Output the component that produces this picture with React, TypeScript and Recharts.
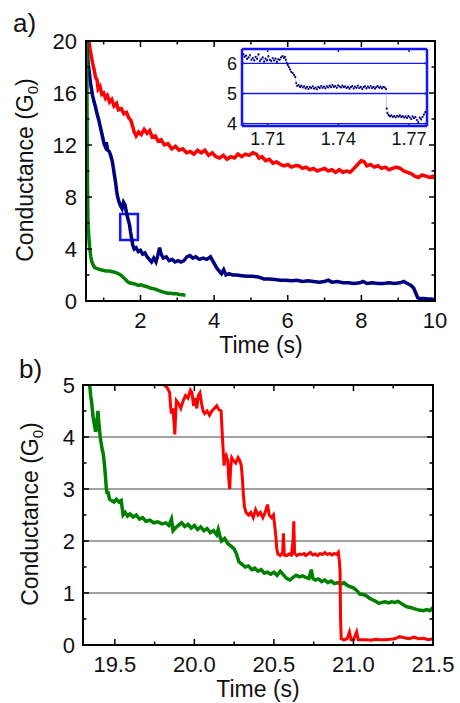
import React from 'react';
import { ComposedChart, Line, XAxis, YAxis, CartesianGrid, ReferenceArea } from 'recharts';

const FONT = '"Liberation Sans", Arial, sans-serif';
const RED = '#ff0000';
const NAVY = '#000080';
const GREEN = '#008000';
const BLUE = '#1414ff';

// ---- panel a: time (s), conductance (G0)
const aTicksX = [1, 2, 3, 4, 5, 6, 7, 8, 9, 10];
const aLabelsX = [2, 4, 6, 8, 10];
const aTicksY = [0, 2, 4, 6, 8, 10, 12, 14, 16, 18, 20];
const aLabelsY = [0, 4, 8, 12, 16, 20];

const aRed = [
  [0.6, 20.0], [0.63, 19.4], [0.66, 18.9], [0.7, 18.3], [0.74, 17.8], [0.78, 17.2], [0.82, 17.0], [0.85, 16.3],
  [0.9, 16.5], [0.95, 15.9], [1.0, 16.0], [1.05, 15.6], [1.1, 15.8], [1.16, 15.3], [1.22, 15.5], [1.28, 15.0],
  [1.35, 15.2], [1.4, 14.7], [1.48, 14.8], [1.55, 14.4], [1.62, 14.5], [1.68, 14.1], [1.74, 13.9], [1.78, 13.5],
  [1.83, 13.0], [1.88, 12.7], [1.95, 13.0], [2.02, 12.8], [2.1, 13.2], [2.18, 12.9], [2.25, 13.1], [2.32, 12.6],
  [2.4, 12.7], [2.48, 12.3], [2.56, 12.4], [2.65, 12.0], [2.75, 12.1], [2.85, 11.7], [2.95, 11.9], [3.05, 11.6],
  [3.15, 11.7], [3.25, 11.4], [3.35, 11.5], [3.45, 11.3], [3.55, 11.6], [3.65, 11.4], [3.75, 11.6], [3.85, 11.2],
  [3.95, 11.4], [4.05, 11.1], [4.15, 11.0], [4.25, 11.2], [4.35, 10.9], [4.45, 11.1], [4.55, 11.0], [4.65, 11.3],
  [4.75, 11.1], [4.85, 11.3], [4.95, 11.2], [5.05, 11.4], [5.15, 11.3], [5.22, 11.0], [5.3, 11.1], [5.4, 10.8],
  [5.5, 10.9], [5.6, 10.6], [5.7, 10.7], [5.8, 10.5], [5.9, 10.4], [6.0, 10.5], [6.1, 10.3], [6.2, 10.4],
  [6.3, 10.4], [6.4, 10.2], [6.5, 10.3], [6.6, 10.1], [6.7, 10.2], [6.8, 10.0], [6.9, 10.1], [7.0, 10.2],
  [7.1, 10.0], [7.2, 10.1], [7.3, 9.9], [7.4, 10.1], [7.5, 9.9], [7.6, 10.0], [7.7, 9.9], [7.8, 10.2],
  [7.9, 10.5], [8.0, 10.8], [8.08, 10.7], [8.15, 10.4], [8.25, 10.5], [8.35, 10.3], [8.45, 10.4], [8.55, 10.2],
  [8.65, 10.3], [8.75, 10.1], [8.85, 10.2], [8.95, 10.3], [9.05, 10.2], [9.15, 10.0], [9.25, 9.9], [9.35, 9.8],
  [9.45, 9.6], [9.55, 9.5], [9.65, 9.7], [9.75, 9.6], [9.85, 9.5], [9.95, 9.6], [10.0, 9.5],
];

const aBlue = [
  [0.54, 20.0], [0.56, 19.0], [0.58, 18.2], [0.61, 17.6], [0.64, 16.8], [0.67, 16.3], [0.7, 15.8], [0.74, 15.3],
  [0.78, 14.9], [0.82, 14.4], [0.86, 14.0], [0.9, 13.5], [0.94, 13.0], [0.98, 12.5], [1.01, 12.1], [1.04, 11.9],
  [1.07, 12.2], [1.11, 11.6], [1.15, 11.5], [1.19, 11.2], [1.23, 10.8], [1.26, 10.3], [1.29, 9.7], [1.32, 9.2],
  [1.35, 8.5], [1.38, 8.0], [1.42, 7.6], [1.46, 7.3], [1.5, 7.1], [1.54, 7.6], [1.58, 7.4], [1.62, 6.8],
  [1.66, 6.3], [1.7, 5.9], [1.73, 5.3], [1.76, 4.8], [1.79, 4.3], [1.83, 4.0], [1.88, 4.1], [1.94, 3.8],
  [2.0, 3.9], [2.06, 3.6], [2.12, 3.7], [2.18, 3.4], [2.24, 3.2], [2.3, 3.0], [2.36, 3.3], [2.42, 3.0],
  [2.47, 3.5], [2.52, 4.1], [2.56, 3.6], [2.62, 3.3], [2.7, 3.4], [2.78, 3.1], [2.86, 3.2], [2.94, 3.0],
  [3.02, 3.1], [3.1, 3.0], [3.18, 3.1], [3.26, 3.4], [3.34, 3.5], [3.42, 3.3], [3.5, 3.4], [3.6, 3.2],
  [3.7, 3.3], [3.8, 3.2], [3.9, 3.4], [3.96, 3.1], [4.02, 2.8], [4.08, 2.5], [4.14, 2.3], [4.2, 2.1],
  [4.26, 2.4], [4.32, 2.0], [4.4, 2.1], [4.5, 2.0], [4.62, 2.0], [4.75, 1.95], [4.9, 1.9], [5.05, 1.9],
  [5.2, 1.85], [5.35, 1.7], [5.5, 1.7], [5.65, 1.65], [5.8, 1.6], [5.95, 1.6], [6.1, 1.55], [6.25, 1.6],
  [6.4, 1.5], [6.55, 1.55], [6.7, 1.5], [6.85, 1.45], [7.0, 1.5], [7.1, 1.6], [7.2, 1.45], [7.35, 1.5],
  [7.5, 1.4], [7.65, 1.4], [7.8, 1.35], [7.95, 1.4], [8.05, 1.5], [8.15, 1.35], [8.3, 1.4], [8.45, 1.35],
  [8.6, 1.35], [8.75, 1.4], [8.9, 1.35], [9.05, 1.4], [9.15, 1.5], [9.25, 1.35], [9.35, 1.2], [9.42, 1.0],
  [9.48, 0.6], [9.53, 0.25], [9.6, 0.2], [9.7, 0.2], [9.8, 0.15], [9.9, 0.15], [10.0, 0.1],
];

const aGreen = [
  [0.54, 20.0], [0.545, 17.0], [0.55, 14.0], [0.555, 11.0], [0.56, 9.0], [0.565, 7.8], [0.57, 6.6], [0.58, 5.7],
  [0.6, 4.8], [0.62, 4.1], [0.65, 3.4], [0.68, 3.0], [0.71, 2.8], [0.75, 2.6], [0.8, 2.5], [0.86, 2.45],
  [0.92, 2.4], [1.0, 2.35], [1.08, 2.3], [1.16, 2.3], [1.24, 2.25], [1.32, 2.2], [1.4, 2.1], [1.46, 2.0],
  [1.52, 1.85], [1.58, 1.7], [1.64, 1.5], [1.7, 1.4], [1.78, 1.35], [1.86, 1.3], [1.94, 1.2], [2.02, 1.25],
  [2.1, 1.15], [2.18, 1.1], [2.26, 1.0], [2.34, 0.95], [2.42, 0.9], [2.5, 0.8], [2.58, 0.72], [2.66, 0.65],
  [2.74, 0.6], [2.82, 0.6], [2.9, 0.55], [2.98, 0.55], [3.06, 0.5], [3.14, 0.48], [3.22, 0.45],
];

// zoom box drawn on the blue trace
const aBox = { t1: 1.45, t2: 1.93, g1: 4.7, g2: 6.7 };

// ---- inset
const inTicksX = [1.71, 1.74, 1.77];
const inTicksY = [4, 5, 6];
const inBlue = [
  [1.6997, 6.3], [1.7002, 6.22], [1.7008, 6.26], [1.7013, 6.15], [1.7019, 6.2], [1.7025, 6.28], [1.7031, 6.12],
  [1.7037, 6.18], [1.7043, 6.1], [1.7049, 6.22], [1.7055, 6.15], [1.7061, 6.3], [1.7067, 6.08], [1.7073, 6.14],
  [1.7079, 6.2], [1.7085, 6.06], [1.7091, 6.16], [1.7097, 6.1], [1.7103, 6.24], [1.7109, 6.12], [1.7115, 6.08],
  [1.7121, 6.18], [1.7127, 6.1], [1.7133, 6.16], [1.7139, 6.05], [1.7145, 6.14], [1.7151, 6.12], [1.7157, 6.2],
  [1.7163, 6.24], [1.7169, 6.18], [1.7173, 6.22], [1.7177, 6.12], [1.7181, 6.02], [1.7185, 5.95], [1.719, 5.88],
  [1.7195, 5.8], [1.72, 5.72], [1.7206, 5.68], [1.7212, 5.62], [1.7217, 5.55], [1.7221, 5.35], [1.7225, 5.25],
  [1.7231, 5.28], [1.7237, 5.22], [1.7243, 5.26], [1.7249, 5.2], [1.7255, 5.24], [1.7261, 5.17], [1.7267, 5.22],
  [1.7273, 5.15], [1.7279, 5.21], [1.7285, 5.18], [1.7291, 5.24], [1.7297, 5.16], [1.7303, 5.2], [1.7309, 5.14],
  [1.7315, 5.22], [1.7321, 5.18], [1.7327, 5.25], [1.7333, 5.19], [1.7339, 5.23], [1.7345, 5.17], [1.7351, 5.24],
  [1.7357, 5.2], [1.7363, 5.26], [1.7369, 5.21], [1.7375, 5.28], [1.7381, 5.22], [1.7387, 5.25], [1.7393, 5.19],
  [1.7399, 5.27], [1.7405, 5.23], [1.7411, 5.2], [1.7417, 5.26], [1.7423, 5.21], [1.7429, 5.24], [1.7435, 5.18],
  [1.7441, 5.22], [1.7447, 5.16], [1.7453, 5.21], [1.7459, 5.25], [1.7465, 5.17], [1.7471, 5.23], [1.7477, 5.19],
  [1.7483, 5.26], [1.7489, 5.18], [1.7495, 5.22], [1.7501, 5.15], [1.7507, 5.21], [1.7513, 5.24], [1.7519, 5.17],
  [1.7525, 5.23], [1.7531, 5.19], [1.7537, 5.25], [1.7543, 5.18], [1.7549, 5.22], [1.7555, 5.16], [1.7561, 5.21],
  [1.7567, 5.25], [1.7573, 5.19], [1.7579, 5.23], [1.7585, 5.17], [1.7591, 5.22], [1.7597, 5.2], [1.7602, 5.15],
  [1.7605, 4.5], [1.7608, 4.35], [1.7613, 4.28], [1.7619, 4.24], [1.7625, 4.27], [1.7631, 4.22], [1.7637, 4.25],
  [1.7643, 4.21], [1.7649, 4.26], [1.7655, 4.23], [1.7661, 4.27], [1.7667, 4.22], [1.7673, 4.25], [1.7679, 4.2],
  [1.7685, 4.24], [1.7691, 4.19], [1.7697, 4.25], [1.7703, 4.21], [1.7709, 4.15], [1.7715, 4.24], [1.7721, 4.18],
  [1.7727, 4.22], [1.7733, 4.12], [1.7739, 4.05], [1.7745, 4.2], [1.7751, 4.14], [1.7757, 4.22], [1.7763, 4.3],
  [1.7769, 4.38],
];

// ---- panel b
const bTicksX = [19.5, 19.75, 20, 20.25, 20.5, 20.75, 21, 21.25, 21.5];
const bLabelsX = [19.5, 20, 20.5, 21, 21.5];
const bTicksY = [0, 0.5, 1, 1.5, 2, 2.5, 3, 3.5, 4, 4.5, 5];
const bLabelsY = [0, 1, 2, 3, 4, 5];
const bGridY = [1, 2, 3, 4];

const bGreen = [
  [19.342, 5.0], [19.348, 4.8], [19.353, 4.7], [19.358, 4.55], [19.363, 4.4], [19.368, 4.3], [19.374, 4.2],
  [19.379, 4.1], [19.384, 4.15], [19.389, 4.35], [19.394, 4.5], [19.399, 4.3], [19.405, 4.1], [19.41, 3.95],
  [19.416, 3.85], [19.421, 3.75], [19.426, 3.7], [19.432, 3.55], [19.437, 3.4], [19.442, 3.2], [19.447, 3.0],
  [19.452, 2.9], [19.458, 2.95], [19.463, 2.85], [19.468, 2.8], [19.48, 2.78], [19.495, 2.75], [19.51, 2.8],
  [19.525, 2.75], [19.54, 2.78], [19.548, 2.6], [19.552, 2.5], [19.565, 2.55], [19.58, 2.48], [19.595, 2.52],
  [19.615, 2.46], [19.635, 2.5], [19.655, 2.42], [19.675, 2.45], [19.695, 2.38], [19.72, 2.4], [19.745, 2.35],
  [19.77, 2.37], [19.795, 2.33], [19.82, 2.35], [19.84, 2.3], [19.856, 2.42], [19.866, 2.2], [19.88, 2.25],
  [19.9, 2.3], [19.92, 2.35], [19.94, 2.28], [19.96, 2.32], [19.98, 2.25], [20.0, 2.3], [20.02, 2.22],
  [20.04, 2.27], [20.06, 2.2], [20.08, 2.24], [20.1, 2.16], [20.12, 2.2], [20.14, 2.12], [20.15, 2.22],
  [20.16, 2.1], [20.17, 2.0], [20.19, 2.05], [20.21, 1.95], [20.23, 1.9], [20.25, 1.85], [20.265, 1.75],
  [20.28, 1.6], [20.3, 1.55], [20.32, 1.5], [20.34, 1.52], [20.36, 1.45], [20.38, 1.48], [20.4, 1.42],
  [20.42, 1.45], [20.44, 1.38], [20.46, 1.4], [20.48, 1.36], [20.5, 1.4], [20.52, 1.34], [20.54, 1.42],
  [20.56, 1.35], [20.58, 1.28], [20.6, 1.25], [20.62, 1.3], [20.64, 1.34], [20.66, 1.31], [20.68, 1.33],
  [20.7, 1.3], [20.72, 1.28], [20.735, 1.45], [20.745, 1.28], [20.76, 1.25], [20.78, 1.27], [20.8, 1.22],
  [20.82, 1.25], [20.84, 1.2], [20.86, 1.23], [20.88, 1.18], [20.9, 1.2], [20.92, 1.16], [20.94, 1.2],
  [20.96, 1.15], [20.98, 1.12], [21.0, 1.1], [21.02, 1.05], [21.04, 0.98], [21.06, 0.97], [21.08, 0.95],
  [21.1, 0.9], [21.12, 0.87], [21.14, 0.84], [21.16, 0.8], [21.18, 0.82], [21.2, 0.83], [21.22, 0.81],
  [21.24, 0.83], [21.26, 0.82], [21.28, 0.84], [21.3, 0.8], [21.32, 0.76], [21.34, 0.73], [21.36, 0.72],
  [21.38, 0.7], [21.4, 0.68], [21.42, 0.67], [21.44, 0.66], [21.46, 0.68], [21.48, 0.66], [21.5, 0.72],
];

const bRed = [
  [19.81, 5.0], [19.83, 4.95], [19.845, 4.85], [19.85, 4.6], [19.856, 4.45], [19.865, 4.55], [19.872, 4.3],
  [19.877, 4.05], [19.882, 4.4], [19.887, 4.7], [19.9, 4.65], [19.915, 4.55], [19.93, 4.7], [19.945, 4.8],
  [19.96, 4.75], [19.975, 4.9], [19.985, 4.85], [19.995, 4.6], [20.005, 4.75], [20.015, 4.55], [20.025, 4.8],
  [20.035, 4.85], [20.045, 4.65], [20.055, 4.5], [20.065, 4.45], [20.08, 4.5], [20.095, 4.42], [20.11, 4.5],
  [20.125, 4.55], [20.14, 4.6], [20.155, 4.52], [20.168, 4.5], [20.173, 4.2], [20.177, 3.95], [20.182, 3.7],
  [20.187, 3.45], [20.192, 3.6], [20.2, 3.65], [20.21, 3.55], [20.216, 3.2], [20.222, 3.0], [20.228, 3.4],
  [20.235, 3.6], [20.245, 3.55], [20.26, 3.5], [20.275, 3.6], [20.285, 3.55], [20.295, 3.45], [20.302, 3.2],
  [20.308, 2.9], [20.315, 2.65], [20.325, 2.55], [20.34, 2.5], [20.355, 2.55], [20.37, 2.45], [20.385, 2.6],
  [20.4, 2.5], [20.415, 2.55], [20.43, 2.45], [20.445, 2.55], [20.46, 2.7], [20.47, 2.5], [20.485, 2.45],
  [20.497, 2.5], [20.505, 2.3], [20.512, 2.1], [20.518, 1.85], [20.525, 1.75], [20.54, 1.72], [20.555, 1.78],
  [20.56, 2.15], [20.565, 1.73], [20.58, 1.72], [20.595, 1.75], [20.61, 1.73], [20.62, 2.0], [20.625, 2.38],
  [20.63, 1.76], [20.645, 1.72], [20.66, 1.75], [20.675, 1.74], [20.69, 1.76], [20.7, 1.72], [20.715, 1.75],
  [20.73, 1.78], [20.745, 1.73], [20.76, 1.75], [20.775, 1.72], [20.79, 1.76], [20.805, 1.74], [20.82, 1.78],
  [20.835, 1.74], [20.85, 1.76], [20.865, 1.73], [20.88, 1.76], [20.895, 1.74], [20.905, 1.78], [20.912, 1.6],
  [20.916, 1.4], [20.919, 0.5], [20.923, 0.12], [20.94, 0.1], [20.96, 0.12], [20.975, 0.25], [20.985, 0.1],
  [21.0, 0.1], [21.02, 0.25], [21.03, 0.1], [21.05, 0.1], [21.08, 0.1], [21.11, 0.09], [21.14, 0.11],
  [21.17, 0.1], [21.2, 0.1], [21.23, 0.11], [21.26, 0.12], [21.29, 0.16], [21.32, 0.14], [21.35, 0.12],
  [21.38, 0.15], [21.41, 0.12], [21.44, 0.13], [21.47, 0.1], [21.5, 0.12],
];

const pts = (arr: number[][]) => arr.map(([t, g]) => ({ t, g }));

type Side = 'bottom' | 'top' | 'left' | 'right';
type TickOpt = {
  labels: number[];
  text?: boolean;
  fmt?: (v: number) => string;
  color?: string;
  size?: number;
  gap?: number;
  major?: number;
  minor?: number;
};

// tick marks drawn inward, labels outside
function edgeTick(side: Side, o: TickOpt) {
  const color = o.color || '#000';
  const size = o.size || 22;
  const gap = o.gap ?? 10;
  const major = o.major ?? 6;
  const minor = o.minor ?? 3.5;
  return (p: any) => {
    const v = p.payload.value;
    const { x, y } = p;
    const isMajor = o.labels.some((l) => Math.abs(l - v) < 1e-6);
    const len = isMajor ? major : minor;
    const l = { x1: x, y1: y, x2: x, y2: y };
    if (side === 'bottom') l.y2 = y - len;
    if (side === 'top') l.y2 = y + len;
    if (side === 'left') l.x2 = x + len;
    if (side === 'right') l.x2 = x - len;
    const label = o.fmt ? o.fmt(v) : String(v);
    return (
      <g>
        <line {...l} stroke={color} strokeWidth={1.5} />
        {o.text && isMajor && side === 'bottom' && (
          <text x={x} y={y + gap} dy="0.72em" textAnchor="middle" fontSize={size} fontFamily={FONT} fill="#111">
            {label}
          </text>
        )}
        {o.text && isMajor && side === 'left' && (
          <text x={x - gap} y={y} dy="0.36em" textAnchor="end" fontSize={size} fontFamily={FONT} fill="#111">
            {label}
          </text>
        )}
      </g>
    );
  };
}

const frameProps = (color: string, w: number) => ({
  axisLine: { stroke: color, strokeWidth: w },
  tickLine: false,
  tickSize: 0,
  tickMargin: 0,
  interval: 0 as const,
  type: 'number' as const,
  allowDataOverflow: true,
});

// plot box: left 86, right 435, top 41, bottom 301
function PanelA() {
  const dom: [number, number] = [0.52, 10];
  return (
    <ComposedChart width={460} height={360} margin={{ top: 0, right: 0, bottom: 0, left: 0 }}>
      <XAxis xAxisId="b" dataKey="t" domain={dom} ticks={aTicksX} height={59} {...frameProps('#000', 2)}
        tick={edgeTick('bottom', { labels: aLabelsX, text: true, gap: 11 })} />
      <XAxis xAxisId="t" orientation="top" dataKey="t" domain={dom} ticks={aTicksX} height={41} {...frameProps('#000', 2)}
        tick={edgeTick('top', { labels: aLabelsX })} />
      <YAxis yAxisId="l" dataKey="g" domain={[0, 20]} ticks={aTicksY} width={86} {...frameProps('#000', 2)}
        tick={edgeTick('left', { labels: aLabelsY, text: true, gap: 9 })} />
      <YAxis yAxisId="r" orientation="right" dataKey="g" domain={[0, 20]} ticks={aTicksY} width={25} {...frameProps('#000', 2)}
        tick={edgeTick('right', { labels: aLabelsY })} />
      <ReferenceArea xAxisId="b" yAxisId="l" x1={dom[0]} x2={dom[1]} y1={0} y2={20}
        stroke="#000" strokeWidth={2} fill="none" fillOpacity={0} ifOverflow="visible" />
      <Line xAxisId="b" yAxisId="l" data={pts(aRed)} dataKey="g" stroke={RED} strokeWidth={3.5} dot={false} isAnimationActive={false} />
      <Line xAxisId="b" yAxisId="l" data={pts(aBlue)} dataKey="g" stroke={NAVY} strokeWidth={3.5} dot={false} isAnimationActive={false} />
      <Line xAxisId="b" yAxisId="l" data={pts(aGreen)} dataKey="g" stroke={GREEN} strokeWidth={3.5} dot={false} isAnimationActive={false} />
      <ReferenceArea xAxisId="b" yAxisId="l" x1={aBox.t1} x2={aBox.t2} y1={aBox.g1} y2={aBox.g2}
        stroke={BLUE} strokeWidth={2.5} fill="none" fillOpacity={0} ifOverflow="visible" />
    </ComposedChart>
  );
}

// plot box: left 242, right 427, top 49, bottom 126
function Inset() {
  const dom: [number, number] = [1.6991, 1.7776];
  const ydom: [number, number] = [3.92, 6.48];
  return (
    <ComposedChart width={460} height={160} margin={{ top: 0, right: 0, bottom: 0, left: 0 }}>
      <CartesianGrid xAxisId="b" yAxisId="l" vertical={false} horizontalValues={inTicksY} stroke={BLUE} strokeWidth={1.3} />
      <XAxis xAxisId="b" dataKey="t" domain={dom} ticks={inTicksX} height={34} {...frameProps(BLUE, 2.5)}
        tick={edgeTick('bottom', { labels: inTicksX, text: true, gap: 6, size: 18, color: BLUE, major: 3, fmt: (v) => v.toFixed(2) })} />
      <XAxis xAxisId="t" orientation="top" dataKey="t" domain={dom} ticks={inTicksX} height={49} {...frameProps(BLUE, 2.5)}
        tick={edgeTick('top', { labels: inTicksX, color: BLUE, major: 3 })} />
      <YAxis yAxisId="l" dataKey="g" domain={ydom} ticks={inTicksY} width={242} {...frameProps(BLUE, 2.5)}
        tick={edgeTick('left', { labels: inTicksY, text: true, gap: 5, size: 18, color: BLUE, major: 3 })} />
      <YAxis yAxisId="r" orientation="right" dataKey="g" domain={ydom} ticks={inTicksY} width={33} {...frameProps(BLUE, 2.5)}
        tick={edgeTick('right', { labels: inTicksY, color: BLUE, major: 3 })} />
      <Line xAxisId="b" yAxisId="l" data={pts(inBlue)} dataKey="g" stroke="#9a9ad8" strokeWidth={0.6}
        dot={{ r: 1.1, fill: NAVY, stroke: 'none' }} isAnimationActive={false} />
    </ComposedChart>
  );
}

// plot box (page coords): left 83, right 433, top 385, bottom 645
function PanelB() {
  const dom: [number, number] = [19.3, 21.5];
  return (
    <ComposedChart width={460} height={353} margin={{ top: 0, right: 0, bottom: 0, left: 0 }}>
      <CartesianGrid xAxisId="b" yAxisId="l" vertical={false} horizontalValues={bGridY} stroke="#444" strokeWidth={1} />
      <XAxis xAxisId="b" dataKey="t" domain={dom} ticks={bTicksX} height={58} {...frameProps('#000', 2)}
        tick={edgeTick('bottom', { labels: bLabelsX, text: true, gap: 11, fmt: (v) => v.toFixed(1) })} />
      <XAxis xAxisId="t" orientation="top" dataKey="t" domain={dom} ticks={bTicksX} height={35} {...frameProps('#000', 2)}
        tick={edgeTick('top', { labels: bLabelsX })} />
      <YAxis yAxisId="l" dataKey="g" domain={[0, 5]} ticks={bTicksY} width={83} {...frameProps('#000', 2)}
        tick={edgeTick('left', { labels: bLabelsY, text: true, gap: 8 })} />
      <YAxis yAxisId="r" orientation="right" dataKey="g" domain={[0, 5]} ticks={bTicksY} width={27} {...frameProps('#000', 2)}
        tick={edgeTick('right', { labels: bLabelsY })} />
      <ReferenceArea xAxisId="b" yAxisId="l" x1={dom[0]} x2={dom[1]} y1={0} y2={5}
        stroke="#000" strokeWidth={2} fill="none" fillOpacity={0} ifOverflow="visible" />
      <Line xAxisId="b" yAxisId="l" data={pts(bGreen)} dataKey="g" stroke={GREEN} strokeWidth={3.5} dot={false} isAnimationActive={false} />
      <Line xAxisId="b" yAxisId="l" data={pts(bRed)} dataKey="g" stroke={RED} strokeWidth={3} dot={false} isAnimationActive={false} />
    </ComposedChart>
  );
}

function Titles() {
  const t = { fontFamily: FONT, fill: '#111' };
  const yTitle = (x: number, y: number) => (
    <text transform={`translate(${x},${y}) rotate(-90)`} textAnchor="middle" fontSize={23} {...t}>
      Conductance (G<tspan dy={5} fontSize={15}>0</tspan><tspan dy={-5}>)</tspan>
    </text>
  );
  return (
    <svg width={460} height={703} style={{ position: 'absolute', left: 0, top: 0, pointerEvents: 'none' }}>
      <text x={13} y={32} fontSize={26} {...t}>a)</text>
      <text x={19} y={378} fontSize={26} {...t}>b)</text>
      <text x={261} y={353} fontSize={23} textAnchor="middle" {...t}>Time (s)</text>
      <text x={258} y={697} fontSize={23} textAnchor="middle" {...t}>Time (s)</text>
      {yTitle(33, 170)}
      {yTitle(38, 514)}
    </svg>
  );
}

export default function App() {
  return (
    <div style={{ position: 'absolute', left: 0, top: 0, width: 460, height: 703, background: '#fff', overflow: 'hidden' }}>
      <div style={{ position: 'absolute', left: 0, top: 0 }}><PanelA /></div>
      <div style={{ position: 'absolute', left: 0, top: 0 }}><Inset /></div>
      <div style={{ position: 'absolute', left: 0, top: 350 }}><PanelB /></div>
      <Titles />
    </div>
  );
}
